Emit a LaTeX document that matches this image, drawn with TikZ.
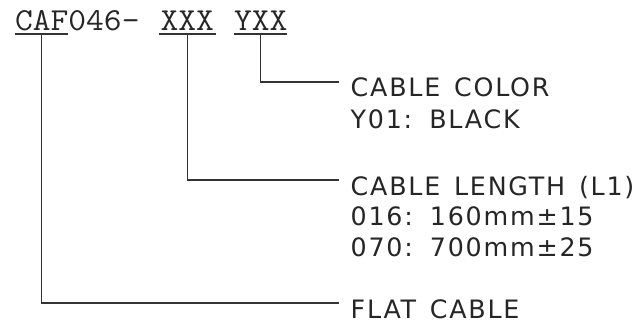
\documentclass[tikz,border=0pt]{standalone}
\usepackage{fontspec}
\setsansfont{DejaVu Sans}[WordSpace=1.4, LetterSpace=7]
\newfontfamily\pnfont{Latin Modern Mono}[FakeStretch=1.08]
\usetikzlibrary{positioning}

\begin{document}
\begin{tikzpicture}[
  x=0.75pt, y=-0.75pt,
  line width=1.1pt, draw=black!80,
  pn/.style={inner sep=0pt, outer sep=0pt, anchor=base west, text depth=3pt,
             text=black!85, font=\fontsize{24}{24}\selectfont\pnfont},
  lbl/.style={inner sep=0pt, anchor=base west, text=black!85,
              font=\fontsize{19}{19}\selectfont\sffamily},
]
  \useasboundingbox (0,0) rectangle (642,326);
  % ── Part number ──
  \node[pn] (caf) at (15,30) {CAF};
  \node[pn] (num) at (caf.base east) {046-};
  \node[pn, minimum width=42.5pt] (xxx) at (159,30) {XXX};
  \node[pn, minimum width=40pt] (yxx) at (234,30) {YXX};
  \draw (caf.south west) -- (caf.south east);
  \draw (xxx.south west) -- (xxx.south east);
  \draw (yxx.south west) -- (yxx.south east);
  % ── Line ends ──
  \coordinate (ecol)  at (339,82);
  \coordinate (elen)  at (339,180);
  \coordinate (eflat) at (339,303);
  % ── Descriptions ──
  \node[lbl] (col)  at (350,96)  {CABLE COLOR};
  \node[lbl] (col1) at (350,128) {Y01: BLACK};
  \node[lbl] (len)  at (350,195) {CABLE LENGTH (L1)};
  \node[lbl] (len1) at (350,225) {016: 160mm±15};
  \node[lbl] (len2) at (350,256) {070: 700mm±25};
  \node[lbl] (flat) at (350,318) {FLAT CABLE};
  % ── Leaders ──
  \draw (yxx.south) |- (ecol);
  \draw (xxx.south) |- (elen);
  \draw (caf.south) |- (eflat);
\end{tikzpicture}
\end{document}
